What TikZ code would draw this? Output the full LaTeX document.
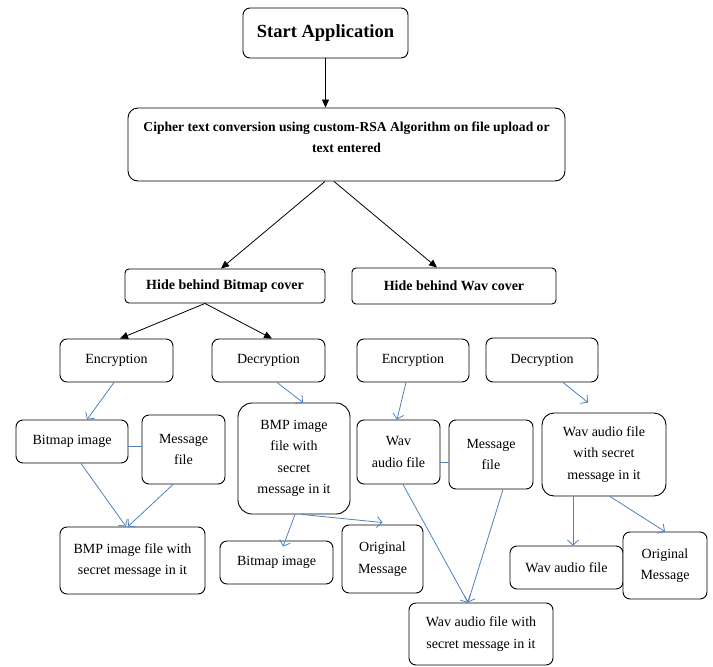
\documentclass[tikz,border=0pt]{standalone}
\usepackage{fontspec}
\setmainfont{Liberation Serif}
\usetikzlibrary{arrows.meta}
\definecolor{linkblue}{RGB}{79,129,189}

\begin{document}
\begin{tikzpicture}
  [
    x = 1pt, y = -1pt,
    box/.style     = {shape=rectangle, rounded corners=7pt,
                      draw, line width=0.9pt, align=center, inner sep=2pt},
    item/.style    = {box, font=\fontsize{14}{21.5}\selectfont},
    heading/.style = {box, font=\bfseries\fontsize{13.6}{21}\selectfont},
    % black arrows of the upper part
    flow/.style    = {draw, line width=0.8pt, -{Triangle[length=8pt,width=7pt]}},
    % thin blue arrows with open heads
    link/.style    = {draw=linkblue, line width=0.8pt,
                      -{Straight Barb[length=5pt,width=11pt]}},
    joint/.style   = {draw=linkblue, line width=0.8pt}
  ]
  \useasboundingbox (0,0) rectangle (713,667);

  % upper part
  \node [box, minimum width=165pt, minimum height=50pt,
         font=\bfseries\fontsize{18.5}{22}\selectfont] (start) at (325.5,33) {Start Application};
  \node [heading, rounded corners=10pt, minimum width=437pt, minimum height=73pt] (cipher) at (346.5,144.5)
        {Cipher text conversion using custom-RSA Algorithm on file upload or\\ text entered\\[-7pt]\mbox{}};
  \node [heading, rounded corners=4pt, minimum width=200pt, minimum height=34pt,
         font=\bfseries\fontsize{14}{21}\selectfont] (bmpcover) at (225,286) {Hide behind Bitmap cover};
  \node [heading, rounded corners=4pt, minimum width=204pt, minimum height=36pt,
         font=\bfseries\fontsize{14}{21}\selectfont] (wavcover) at (454,286) {Hide behind Wav cover};

  % bitmap branch
  \node [item, minimum width=113pt, minimum height=43pt] (enc1) at (116.5,360.5) {Encryption};
  \node [item, minimum width=113pt, minimum height=43pt] (dec1) at (268.5,360.5) {Decryption};
  \node [item, minimum width=112pt, minimum height=43pt] (bmpimg) at (72,441.5) {Bitmap image};
  \node [item, minimum width=83pt, minimum height=69pt] (msg1) at (183.5,449.5) {Message\\ file};
  \node [item, minimum width=145pt, minimum height=67pt] (bmpout) at (132.5,560.5) {BMP image file with\\ secret message in it};
  \node [item, rounded corners=14pt, minimum width=112pt, minimum height=111pt] (bmpin) at (294,458.5)
        {BMP image\\ file with\\ secret\\ message in it};
  \node [item, minimum width=113pt, minimum height=43pt] (bmpimg2) at (276.5,562.5) {Bitmap image};
  \node [item, minimum width=81pt, minimum height=68pt] (orig1) at (382.5,559) {Original\\ Message};

  % wav branch
  \node [item, minimum width=112pt, minimum height=43pt] (enc2) at (413,360.5) {Encryption};
  \node [item, minimum width=112pt, minimum height=44pt] (dec2) at (542,360) {Decryption};
  \node [item, minimum width=83pt, minimum height=64pt] (wavin) at (398.5,452) {Wav\\ audio file};
  \node [item, minimum width=84pt, minimum height=69pt] (msg2) at (491,454.5) {Message\\ file};
  \node [item, minimum width=144pt, minimum height=62pt] (wavout) at (481,634) {Wav audio file with\\ secret message in it};
  \node [item, rounded corners=12pt, minimum width=124pt, minimum height=83pt] (wavdec) at (604,454.5)
        {Wav audio file\\ with secret\\ message in it};
  \node [item, minimum width=113pt, minimum height=43pt] (wavimg2) at (566.5,567.5) {Wav audio file};
  \node [item, fill=white, minimum width=84pt, minimum height=67pt] (orig2) at (665,565.5) {Original\\ Message};

  % black connectors
  \draw [flow] (start.south) -- (start.south |- cipher.north);
  \draw [flow] ([xshift=-21.5pt]cipher.south) -- ([xshift=-4pt]bmpcover.north);
  \draw [flow] ([xshift=-12.5pt]cipher.south) -- ([xshift=-17pt]wavcover.north);
  \draw [flow] ([xshift=-20pt]bmpcover.south) -- ([xshift=3.5pt]enc1.north);
  \draw [flow] ([xshift=-20pt]bmpcover.south) -- ([xshift=3.5pt]dec1.north);

  % blue connectors, bitmap
  \draw [link] ([xshift=-2.5pt]enc1.south) -- ([xshift=15pt]bmpimg.north);
  \draw [joint] ([yshift=-4.5pt]bmpimg.east) -- ([yshift=-4.5pt]bmpimg.east -| msg1.west);
  \draw [link] ([xshift=9pt]bmpimg.south) -- ([xshift=-6.5pt]bmpout.north);
  \draw [link] ([xshift=-10.5pt]msg1.south) -- ([xshift=-4.5pt]bmpout.north);
  \draw [link] ([xshift=8.5pt]dec1.south) -- ([xshift=9pt]bmpin.north);
  \draw [link] ([xshift=1pt]bmpin.south) -- ([xshift=6.5pt,yshift=-6pt]bmpimg2.north);
  \draw [link] ([xshift=8pt]bmpin.south) -- ([yshift=2pt]orig1.north);

  % blue connectors, wav
  \draw [link] ([xshift=-7pt]enc2.south) -- ([xshift=-1.5pt]wavin.north);
  \draw [joint] ([yshift=-10pt]wavin.east) -- ([yshift=-10pt]wavin.east -| msg2.west);
  \draw [link] ([xshift=4.5pt]wavin.south) -- ([xshift=-13pt]wavout.north);
  \draw [link] ([xshift=12pt]msg2.south) -- ([xshift=-13pt]wavout.north);
  \draw [link] ([xshift=21pt]dec2.south) -- ([xshift=-16pt,yshift=10pt]wavdec.north);
  \draw [link] ([xshift=-31pt]wavdec.south) -- ([xshift=6.5pt]wavimg2.north);
  \draw [link] ([xshift=6pt]wavdec.south) -- (orig2.north);
\end{tikzpicture}
\end{document}
